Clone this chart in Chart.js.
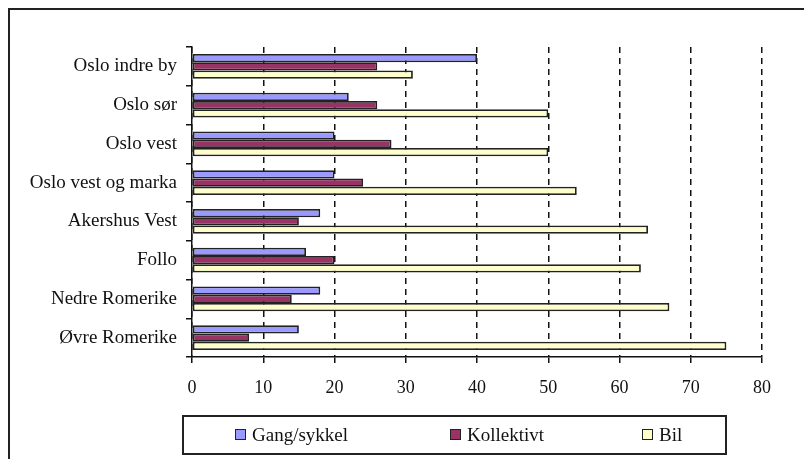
<!DOCTYPE html>
<html lang="no">
<head>
    <meta charset="UTF-8">
    <script src="https://cdn.jsdelivr.net/npm/chart.js"></script>
    <title>Reisemiddel</title>
    <style>
        html, body { margin: 0; padding: 0; background: #fff; }
        .wrap { position: relative; width: 804px; height: 459px; overflow: hidden; }
        .ramme { position: absolute; left: 8px; top: 8px; right: -4px; bottom: -4px; border-top: 2px solid #222; border-left: 2px solid #222; }
        #grafikk { position: absolute; left: 0; top: 0; }
        .forklaring { position: absolute; left: 182px; top: 415px; width: 541px; height: 36px; border: 2px solid #222; font-family: "Liberation Serif", serif; font-size: 19px; color: #111; }
        .forklaring span.punkt { position: absolute; top: 8px; white-space: nowrap; line-height: 19px; }
        .forklaring i { display: inline-block; width: 9px; height: 9px; border: 1.5px solid #222; margin-right: 6px; vertical-align: 1px; }
    </style>
</head>
<body>
    <div class="wrap">
        <div class="ramme"></div>
        <canvas id="grafikk" width="804" height="459"></canvas>
        <div class="forklaring" id="forklaring"></div>
    </div>

<script>
    // omraader og andeler (prosent)
    var omraader = ['Oslo indre by', 'Oslo sør', 'Oslo vest', 'Oslo vest og marka', 'Akershus Vest', 'Follo', 'Nedre Romerike', 'Øvre Romerike'];
    var gangSykkel = [40, 22, 20, 20, 18, 16, 18, 15];
    var kollektivt = [26, 26, 28, 24, 15, 20, 14, 8];
    var bil = [31, 50, 50, 54, 64, 63, 67, 75];
    var serieNavn = ['Gang/sykkel', 'Kollektivt', 'Bil'];
    var serieFarger = ['#9999FF', '#993366', '#FFFFCC'];
    var xTikk = [0, 10, 20, 30, 40, 50, 60, 70, 80];

    var serier = [gangSykkel, kollektivt, bil];
    var datasett = [];
    for (var i = 0; i < serier.length; i++) {
        datasett.push({
            label: serieNavn[i],
            data: serier[i],
            backgroundColor: serieFarger[i],
            borderColor: '#222',
            borderWidth: 1.8,
            borderSkipped: false,
            categoryPercentage: 0.64,
            barPercentage: 1.0
        });
    }

    var skrift = { family: '"Liberation Serif", serif', size: 19 };
    var tallSkrift = { family: '"Liberation Serif", serif', size: 18 };

    new Chart(document.getElementById('grafikk'), {
        type: 'bar',
        data: { labels: omraader, datasets: datasett },
        options: {
            indexAxis: 'y',
            responsive: false,
            animation: false,
            layout: { padding: { top: 47, right: 42, left: 0, bottom: 62 } },
            plugins: {
                legend: { display: false },
                tooltip: { enabled: false }
            },
            scales: {
                x: {
                    min: xTikk[0],
                    max: xTikk[xTikk.length - 1],
                    afterBuildTicks: function (skala) {
                        skala.ticks = xTikk.map(function (v) { return { value: v }; });
                    },
                    afterFit: function (skala) { skala.height = 40; },
                    ticks: { color: '#111', font: tallSkrift, padding: 14 },
                    grid: { color: '#111', lineWidth: 1.5, tickLength: 6, tickBorderDash: [], tickColor: '#111' },
                    border: { display: true, color: '#111', width: 1.5, dash: [6, 5] }
                },
                y: {
                    afterFit: function (skala) { skala.width = 192; },
                    ticks: { color: '#111', font: skrift, padding: 9 },
                    grid: { drawOnChartArea: false, color: '#111', lineWidth: 1.5, tickLength: 6 },
                    border: { display: true, color: '#111', width: 1.5 }
                }
            }
        }
    });

    // forklaring under grafen
    var forklaring = document.getElementById('forklaring');
    var venstre = [51, 266, 458];
    for (var j = 0; j < serieNavn.length; j++) {
        var punkt = document.createElement('span');
        punkt.className = 'punkt';
        punkt.style.left = venstre[j] + 'px';
        punkt.innerHTML = '<i style="background:' + serieFarger[j] + '"></i>' + serieNavn[j];
        forklaring.appendChild(punkt);
    }
</script>
</body>
</html>
